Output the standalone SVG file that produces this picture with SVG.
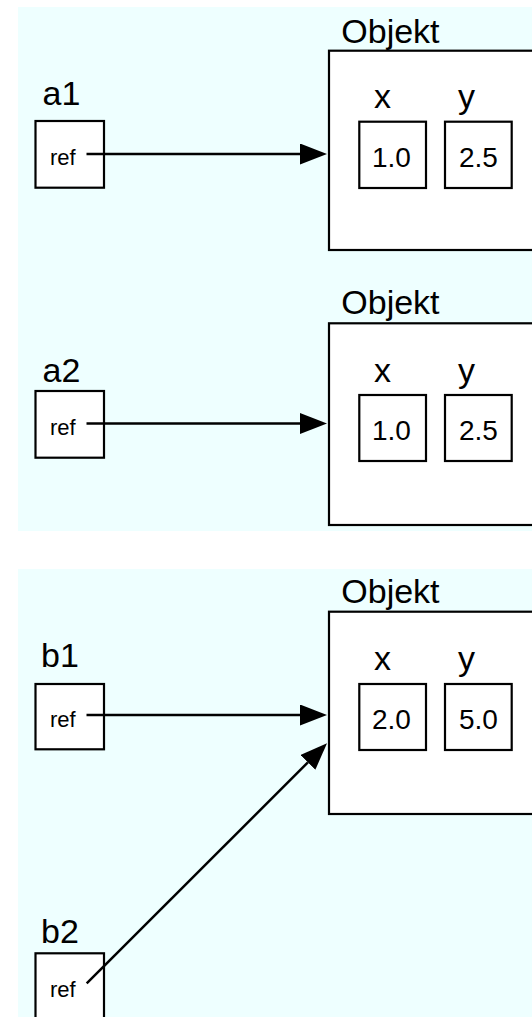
<svg xmlns="http://www.w3.org/2000/svg" width="532" height="1017" viewBox="0 0 532 1017">
  <style>
    .panel { fill: #EEFFFF; }
    .box { fill: #FFFFFF; stroke: #000000; stroke-width: 2.2; }
    .name { font-family: "Liberation Sans", Arial, Helvetica, sans-serif; font-size: 34px; fill: #000000; }
    .title { font-family: "Liberation Sans", Arial, Helvetica, sans-serif; font-size: 34px; fill: #000000; }
    .val { font-family: "Liberation Sans", Arial, Helvetica, sans-serif; font-size: 28px; fill: #000000; }
    .ref { font-family: "Liberation Sans", Arial, Helvetica, sans-serif; font-size: 22px; fill: #000000; }
    .link { fill: none; stroke: #000000; stroke-width: 2.5; }
  </style>
  <defs>
    <marker id="head" markerUnits="userSpaceOnUse" markerWidth="28" markerHeight="22" refX="0" refY="10.5" orient="auto">
      <path d="M0,0 L27,10.5 L0,21 Z" fill="#000000"/>
    </marker>
  </defs>

  <!-- background panels -->
  <rect class="panel" x="18" y="7" width="514" height="524"/>
  <rect class="panel" x="18" y="569" width="514" height="448"/>

  <!-- first object (referenced by a1) -->
  <g id="obj1">
    <text class="title" x="341.3" y="43.3">Objekt</text>
    <rect class="box" x="329" y="50.7" width="220" height="199.3"/>
    <text class="name" x="374" y="108.3">x</text>
    <text class="name" x="458" y="108.3">y</text>
    <rect class="box" x="359.3" y="121.7" width="66.7" height="66.3"/>
    <text class="val" x="372" y="166.7">1.0</text>
    <rect class="box" x="445" y="121.7" width="66.7" height="66.3"/>
    <text class="val" x="459" y="166.7">2.5</text>
  </g>

  <!-- second object (referenced by a2) -->
  <g id="obj2">
    <text class="title" x="341.3" y="313.5">Objekt</text>
    <rect class="box" x="329" y="323.3" width="220" height="201.7"/>
    <text class="name" x="374" y="381.7">x</text>
    <text class="name" x="458" y="381.7">y</text>
    <rect class="box" x="359.3" y="395" width="66.7" height="66"/>
    <text class="val" x="372" y="440">1.0</text>
    <rect class="box" x="445" y="395" width="66.7" height="66"/>
    <text class="val" x="459" y="440">2.5</text>
  </g>

  <!-- third object (shared by b1 and b2) -->
  <g id="obj3">
    <text class="title" x="341.3" y="603.3">Objekt</text>
    <rect class="box" x="329" y="611.7" width="220" height="202.3"/>
    <text class="name" x="374" y="670">x</text>
    <text class="name" x="458" y="670">y</text>
    <rect class="box" x="359.3" y="684" width="66.7" height="66"/>
    <text class="val" x="372" y="728.5">2.0</text>
    <rect class="box" x="445" y="684" width="66.7" height="66"/>
    <text class="val" x="459" y="728.5">5.0</text>
  </g>

  <!-- reference variables -->
  <g id="a1">
    <text class="name" x="42.5" y="105">a1</text>
    <rect class="box" x="35.5" y="121" width="68.5" height="66.7"/>
    <text class="ref" x="50" y="165">ref</text>
  </g>
  <g id="a2">
    <text class="name" x="42.5" y="381.7">a2</text>
    <rect class="box" x="35.5" y="391" width="68.5" height="66.7"/>
    <text class="ref" x="50" y="435">ref</text>
  </g>
  <g id="b1">
    <text class="name" x="41" y="666.7">b1</text>
    <rect class="box" x="35.5" y="684" width="68.5" height="65.3"/>
    <text class="ref" x="50" y="726.7">ref</text>
  </g>
  <g id="b2">
    <text class="name" x="41" y="942.7">b2</text>
    <rect class="box" x="35.5" y="953.3" width="68.5" height="80"/>
    <text class="ref" x="50" y="997">ref</text>
  </g>

  <!-- references -->
  <g id="connectors">
    <line class="link" x1="86.5" y1="154" x2="300" y2="154" marker-end="url(#head)"/>
    <line class="link" x1="86.5" y1="423.5" x2="300" y2="423.5" marker-end="url(#head)"/>
    <line class="link" x1="86.5" y1="715" x2="300" y2="715" marker-end="url(#head)"/>
    <line class="link" x1="86.7" y1="983.3" x2="307.9" y2="762.4" marker-end="url(#head)"/>
  </g>
</svg>
